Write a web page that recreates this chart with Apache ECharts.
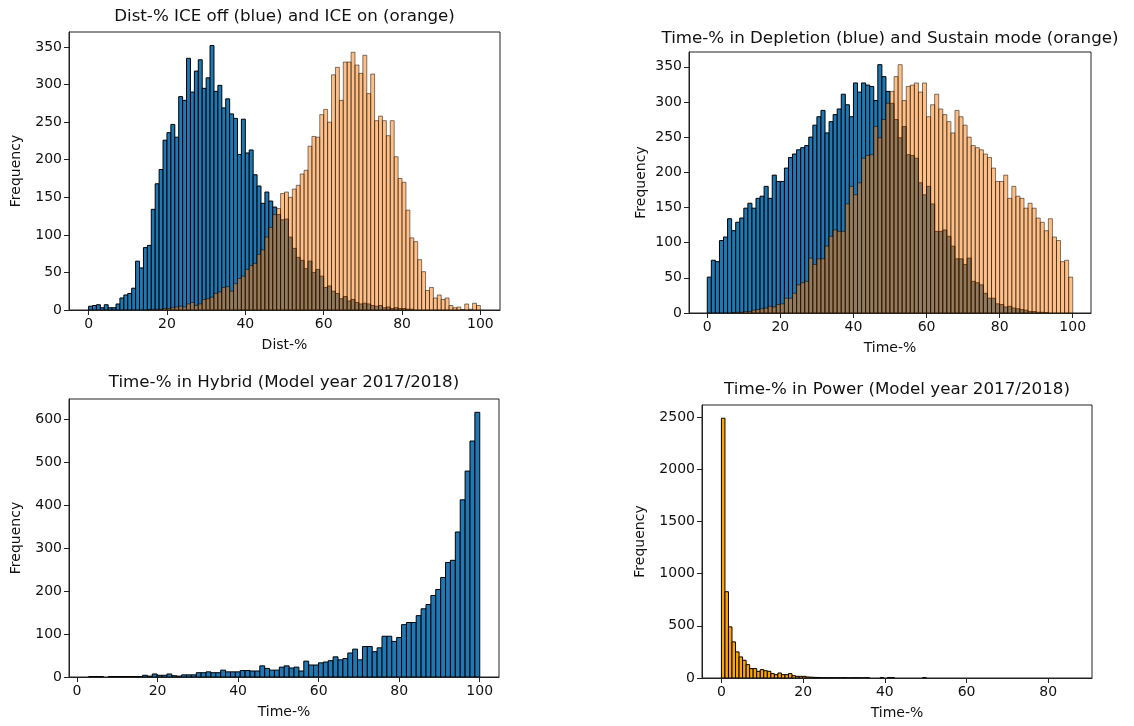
<!DOCTYPE html>
<html>
<head>
<meta charset="utf-8">
<script src="https://cdn.jsdelivr.net/npm/echarts@6/dist/echarts.min.js"></script>
<style>html,body{margin:0;padding:0;background:#fff}#c{width:1134px;height:726px}</style>
</head>
<body>
<div id="c"></div>
<script>
// ---------- data (counts per bin) ----------
const titles = [
  "Dist-% ICE off (blue) and ICE on (orange)",
  "Time-% in Depletion (blue) and Sustain mode (orange)",
  "Time-% in Hybrid (Model year 2017/2018)",
  "Time-% in Power (Model year 2017/2018)"
];
const xNames = ["Dist-%", "Time-%", "Time-%", "Time-%"];

// Panel 1: Dist-% ICE off (bins of width 1 from 0)
const iceOffStart = 0, iceOffWidth = 1;
const iceOff = [5,6,7,3,7,3,3,8,16,20,22,29,65,56,83,86,134,168,187,226,236,247,230,284,279,335,290,318,333,295,309,352,291,299,269,281,261,255,207,254,209,213,180,165,142,157,145,137,127,120,121,97,82,70,66,55,65,50,54,45,30,32,25,22,15,18,12,14,10,8,9,8,6,5,6,3,4,2,3,2,2,1,1];
// Panel 1: Dist-% ICE on
const iceOnStart = 0, iceOnWidth = 1;
const iceOn = [0,0,0,0,0,0,0,0,0,0,0,0,0,0,0,0.5,1,1,1,2,2,3,4,5,4,8,10,6,8,14,15,17,22,24,30,31,25,35,42,45,54,59,62,74,80,97,110,127,135,155,157,150,161,166,181,186,218,231,230,260,267,250,313,323,279,330,330,343,326,315,339,288,314,252,258,252,232,252,204,175,170,133,96,91,67,51,26,30,16,20,14,16,6,3,4,0.5,8,1,9,6];

// Panel 2: Depletion / Sustain (90 bins from 0 to 100)
const modeStart = 0, modeWidth = 100 / 90;
const depletion = [51,75,73,103,108,134,117,129,135,149,156,149,163,166,180,163,196,187,187,206,221,226,232,235,238,250,267,279,288,256,272,282,290,311,296,279,327,314,327,324,322,302,353,336,315,298,275,249,265,225,224,220,185,168,180,155,116,116,118,109,95,77,77,69,78,45,43,40,28,21,21,13,12,8.5,9.5,7,6,5,4,2,2,1,1,0.5,0,0,0,0,0,0];
const sustain = [0,0,0,0,0,0,0.5,1,1,2,2,4,5,6,7,9.5,8.5,12,13,21,21,28,40,43,45,78,69,77,77,95,109,118,116,116,155,180,168,185,220,224,225,265,249,275,298,315,336,353,302,322,324,327,314,327,279,296,311,290,282,272,256,288,279,267,250,238,235,232,226,221,206,187,187,196,163,180,166,163,149,156,149,135,129,117,134,108,103,73,75,51];

// Panel 3: Hybrid (80 bins)
const hybridStart = 2.9, hybridWidth = 1.214;
const hybrid = [1,1,1,0,1,1,1,1,1,1,1,4,2,7,4,4,7,3,2,5,5,5,10,10,12,10,10,16,12,12,12,15,15,14,14,26,20,16,16,23,26,21,23,14,37,28,28,33,35,38,47,40,43,56,65,40,71,71,59,68,95,95,83,92,122,127,127,143,159,169,190,204,232,267,272,338,413,480,550,617];

// Panel 4: Power (bins of width 0.864 from 0)
const powerStart = 0, powerWidth = 0.864;
const power = [2490,827,490,346,250,202,170,128,90,90,64,80,70,64,42,32,48,32,32,42,22,16,16,16,10,8,6,5,3,3,2,3,2,2,3,2,1,2,2,1,1,2,0,0,0,5,0,5,5,0,0,0,0,0,0,0,0,5];

// tick values
const xTicks100 = [0,20,40,60,80,100];
const xTicks80 = [0,20,40,60,80];
const yTicks350 = [0,50,100,150,200,250,300,350];
const yTicks600 = [0,100,200,300,400,500,600];
const yTicks2500 = [0,500,1000,1500,2000,2500];

// ---------- chart ----------
const FONT = "DejaVu Sans";
const INK = "#111";
const chart = echarts.init(document.getElementById('c'), null, {renderer: 'canvas'});

const grids = [
  {left: 69, top: 32, width: 431, height: 278},
  {left: 689, top: 52, width: 402, height: 261},
  {left: 69, top: 399, width: 430, height: 278},
  {left: 702, top: 405, width: 390, height: 273}
];
const xRanges = [[-5, 105], [-5, 105], [-2, 104.8], [-4.75, 90.7]];
const yRanges = [[0, 370], [0, 371], [0, 648], [0, 2617]];
const xTickSets = [xTicks100, xTicks100, xTicks100, xTicks80];
const yTickSets = [yTicks350, yTicks350, yTicks600, yTicks2500];
const yNameGaps = [46, 41, 46, 55];
const xNameGap = 28;
const titlePos = [[284.5, 8], [890, 30], [284, 374], [897, 381]];

function hist(g, start, width, counts, fill, opacity, z) {
  const data = counts.map((c, i) => [start + i * width, start + (i + 1) * width, c]);
  return {
    type: 'custom', xAxisIndex: g, yAxisIndex: g, data: data, z: z,
    encode: {x: [0, 1], y: 2}, clip: true, silent: true, animation: false,
    renderItem: function (params, api) {
      if (!(api.value(2) > 0)) return null;
      const p0 = api.coord([api.value(0), api.value(2)]);
      const p1 = api.coord([api.value(1), 0]);
      return {
        type: 'rect',
        shape: {x: p0[0], y: p0[1], width: p1[0] - p0[0], height: p1[1] - p0[1]},
        style: {fill: fill, stroke: '#000', lineWidth: 1, opacity: opacity}
      };
    }
  };
}

const axisLineStyle = {show: true, onZero: false, lineStyle: {color: '#222', width: 1}};
const labelStyle = {color: INK, fontSize: 14, fontFamily: FONT, formatter: v => String(v)};

const option = {
  backgroundColor: '#fff',
  animation: false,
  title: titles.map((t, i) => ({
    text: t, left: titlePos[i][0], top: titlePos[i][1], textAlign: 'center', padding: 0,
    textStyle: {fontSize: 16.7, fontWeight: 'normal', fontFamily: FONT, color: INK}
  })),
  grid: grids.map(g => Object.assign({show: true, borderColor: '#222', borderWidth: 1, backgroundColor: '#fff', containLabel: false}, g)),
  xAxis: grids.map((g, i) => ({
    type: 'value', gridIndex: i, min: xRanges[i][0], max: xRanges[i][1],
    name: xNames[i], nameLocation: 'middle', nameGap: xNameGap,
    nameTextStyle: {color: INK, fontSize: 14, fontFamily: FONT},
    axisLine: axisLineStyle, splitLine: {show: false},
    axisTick: {show: true, length: 5, lineStyle: {color: '#222'}, customValues: xTickSets[i]},
    axisLabel: Object.assign({margin: 7, customValues: xTickSets[i]}, labelStyle)
  })),
  yAxis: grids.map((g, i) => ({
    type: 'value', gridIndex: i, min: yRanges[i][0], max: yRanges[i][1],
    name: 'Frequency', nameLocation: 'middle', nameGap: yNameGaps[i], nameRotate: 90,
    nameTextStyle: {color: INK, fontSize: 14, fontFamily: FONT},
    axisLine: axisLineStyle, splitLine: {show: false},
    axisTick: {show: true, length: 5, lineStyle: {color: '#222'}, customValues: yTickSets[i]},
    axisLabel: Object.assign({margin: 7, customValues: yTickSets[i]}, labelStyle)
  })),
  series: [
    hist(0, iceOffStart, iceOffWidth, iceOff, '#1f77b4', 1, 2),
    hist(0, iceOnStart, iceOnWidth, iceOn, '#ff7f0e', 0.5, 3),
    hist(1, modeStart, modeWidth, depletion, '#1f77b4', 1, 2),
    hist(1, modeStart, modeWidth, sustain, '#ff7f0e', 0.5, 3),
    hist(2, hybridStart, hybridWidth, hybrid, '#1f77b4', 1, 2),
    hist(3, powerStart, powerWidth, power, '#ffa500', 1, 2)
  ]
};
chart.setOption(option);
</script>
</body>
</html>
